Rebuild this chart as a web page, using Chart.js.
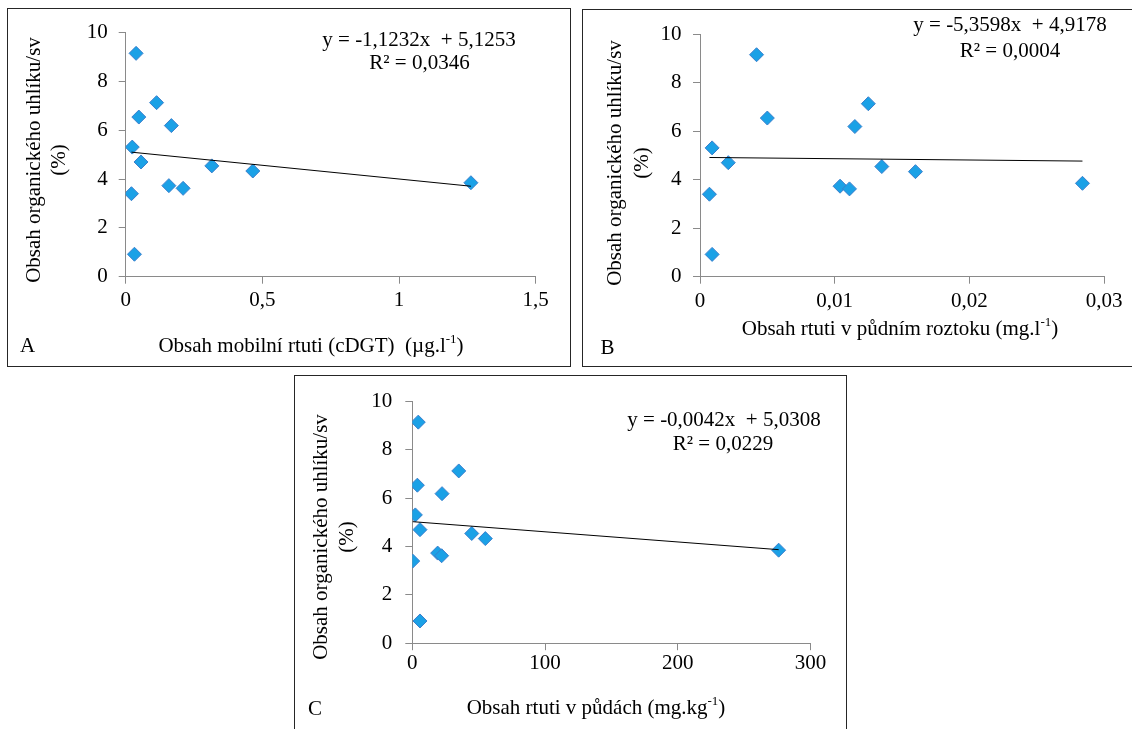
<!DOCTYPE html>
<html>
<head>
<meta charset="utf-8">
<script src="https://cdn.jsdelivr.net/npm/chart.js@4.4.1/dist/chart.umd.min.js"></script>
<style>
  body { margin: 0; background: #fff; width: 1132px; height: 729px; overflow: hidden; position: relative; }
  .panel { position: absolute; border: 1px solid #262626; background: #fff; }
  .panel canvas { position: absolute; left: 0; top: 0; }
</style>
</head>
<body>
<div class="panel" style="left:7px;top:8px;width:562px;height:357px"><canvas id="chartA" width="562" height="357"></canvas></div>
<div class="panel" style="left:582px;top:9px;width:560px;height:356px"><canvas id="chartB" width="560" height="356"></canvas></div>
<div class="panel" style="left:294px;top:375px;width:551px;height:360px"><canvas id="chartC" width="551" height="360"></canvas></div>
<script>
// organic carbon content (%) of the 13 soil samples
var carbon = [9.15, 6.54, 7.13, 6.19, 5.31, 4.70, 3.73, 3.62, 4.54, 4.33, 3.85, 3.40, 0.92];

// mercury: mobile (cDGT, ug/l), in soil solution (mg/l), total in soil (mg/kg)
var hgMobile = [0.038, 0.048, 0.113, 0.167, 0.024, 0.056, 0.158, 0.210, 0.315, 0.465, 1.263, 0.021, 0.032];
var hgSolution = [0.0042, 0.0050, 0.0125, 0.0115, 0.0009, 0.0021, 0.0104, 0.0111, 0.0135, 0.0160, 0.0284, 0.0007, 0.0009];
var hgSoil = [4.5, 3.8, 35.0, 22.4, 2.3, 5.8, 19.1, 22.1, 44.8, 55.0, 276, 0.3, 5.8];

// linear fits: [slope, intercept, R2]
var fitA = [-1.1232, 5.1253, 0.0346];
var fitB = [-5.3598, 4.9178, 0.0004];
var fitC = [-0.0042, 5.0308, 0.0229];

var ticksY = [0, 2, 4, 6, 8, 10];
var ticksA = [0, 0.5, 1, 1.5];
var ticksB = [0, 0.01, 0.02, 0.03];
var ticksC = [0, 100, 200, 300];

var yTitle = ['Obsah organického uhlíku/sv', '(%)'];

var serif = '"Liberation Serif", "Times New Roman", serif';
var fontSize = 21;

function comma(v, d) {
  return (d === undefined ? String(+v.toFixed(6)) : v.toFixed(d)).replace('.', ',');
}

// draws a line of text; parts beginning with '^' are superscripts
function drawParts(ctx, parts, cx, cy) {
  var small = Math.round(fontSize * 0.62);
  var widths = parts.map(function (p) {
    var sup = p.charAt(0) === '^';
    ctx.font = (sup ? small : fontSize) + 'px ' + serif;
    return ctx.measureText(sup ? p.slice(1) : p).width;
  });
  var x = cx - widths.reduce(function (a, b) { return a + b; }, 0) / 2;
  ctx.textAlign = 'left';
  ctx.textBaseline = 'middle';
  parts.forEach(function (p, i) {
    var sup = p.charAt(0) === '^';
    ctx.font = (sup ? small : fontSize) + 'px ' + serif;
    ctx.fillText(sup ? p.slice(1) : p, x, sup ? cy - fontSize * 0.3 : cy);
    x += widths[i];
  });
}

var panelText = {
  id: 'panelText',
  afterDraw: function (chart, args, o) {
    var ctx = chart.ctx;
    ctx.save();
    ctx.fillStyle = '#000';

    // rotated y title, one line after another
    ctx.save();
    ctx.translate(0, o.yTitle.cy);
    ctx.rotate(-Math.PI / 2);
    ctx.font = fontSize + 'px ' + serif;
    ctx.textAlign = 'center';
    ctx.textBaseline = 'middle';
    yTitle.forEach(function (t, i) { ctx.fillText(t, 0, o.yTitle.x[i]); });
    ctx.restore();

    drawParts(ctx, o.xTitle.parts, o.xTitle.at[0], o.xTitle.at[1]);

    var fit = o.fit;
    drawParts(ctx, ['y = ' + comma(fit[0], 4) + 'x  + ' + comma(fit[1], 4)], o.eq[0][0], o.eq[0][1]);
    drawParts(ctx, ['R\u00b2 = ' + comma(fit[2], 4)], o.eq[1][0], o.eq[1][1]);

    ctx.font = fontSize + 'px ' + serif;
    ctx.textAlign = 'left';
    ctx.textBaseline = 'middle';
    ctx.fillText(o.letter.text, o.letter.at[0], o.letter.at[1]);
    ctx.restore();
  }
};

var gridOpts = { drawOnChartArea: false, drawTicks: true, tickLength: 7, color: '#8a8a8a', lineWidth: 1 };
var borderOpts = { display: true, color: '#8a8a8a', width: 1 };

function makePanel(id, xs, fit, ticksX, p) {
  var canvas = document.getElementById(id);
  var pts = xs.map(function (v, i) { return { x: v, y: carbon[i] }; });
  var lo = Math.min.apply(null, xs), hi = Math.max.apply(null, xs);
  var trend = [lo, hi].map(function (v) { return { x: v, y: fit[0] * v + fit[1] }; });
  var a = p.area;

  return new Chart(canvas, {
    type: 'scatter',
    data: {
      datasets: [{
        data: trend,
        showLine: true,
        borderColor: '#000',
        borderWidth: 1,
        pointRadius: 0,
        order: 0
      }, {
        data: pts,
        pointStyle: 'rectRot',
        pointRadius: 7,
        backgroundColor: '#1ba1e6',
        borderColor: '#3a7fcc',
        borderWidth: 1,
        order: 1
      }]
    },
    options: {
      responsive: false,
      animation: false,
      devicePixelRatio: 1,
      layout: { padding: { top: a.top, right: canvas.width - a.right, left: 0, bottom: 0 } },
      plugins: {
        legend: { display: false },
        tooltip: { enabled: false },
        panelText: p.text
      },
      scales: {
        x: {
          type: 'linear',
          min: ticksX[0],
          max: ticksX[ticksX.length - 1],
          ticks: {
            stepSize: ticksX[1] - ticksX[0],
            maxRotation: 0,
            padding: p.xPad,
            color: '#000',
            font: { family: serif, size: fontSize },
            callback: function (v) { return comma(v); }
          },
          grid: gridOpts,
          border: borderOpts,
          afterFit: function (s) { s.height = canvas.height - a.bottom; }
        },
        y: {
          min: ticksY[0],
          max: ticksY[ticksY.length - 1],
          ticks: {
            stepSize: ticksY[1] - ticksY[0],
            padding: p.yPad,
            color: '#000',
            font: { family: serif, size: fontSize },
            callback: function (v) { return comma(v); }
          },
          grid: gridOpts,
          border: borderOpts,
          afterFit: function (s) { s.width = a.left; }
        }
      }
    },
    plugins: [panelText]
  });
}

makePanel('chartA', hgMobile, fitA, ticksA, {
  area: { left: 117.7, top: 21, right: 527.7, bottom: 267.7 },
  xPad: 4.5, yPad: 11,
  text: {
    fit: fitA,
    yTitle: { x: [26, 51], cy: 151 },
    xTitle: { parts: ['Obsah mobilní rtuti (cDGT)  (\u00b5g.l', '^-1', ')'], at: [303, 337] },
    eq: [[411, 31], [411.5, 54.3]],
    letter: { text: 'A', at: [12, 337] }
  }
});

makePanel('chartB', hgSolution, fitB, ticksB, {
  area: { left: 117, top: 20, right: 521, bottom: 266.7 },
  xPad: 5, yPad: 11.5,
  text: {
    fit: fitB,
    yTitle: { x: [32, 59.5], cy: 153 },
    xTitle: { parts: ['Obsah rtuti v půdním roztoku (mg.l', '^-1', ')'], at: [317, 319] },
    eq: [[427, 15], [427, 41.7]],
    letter: { text: 'B', at: [17.5, 338] }
  }
});

makePanel('chartC', hgSoil, fitC, ticksC, {
  area: { left: 117.3, top: 20, right: 515.5, bottom: 267.2 },
  xPad: 0.5, yPad: 13,
  text: {
    fit: fitC,
    yTitle: { x: [26.7, 52.7], cy: 161 },
    xTitle: { parts: ['Obsah rtuti v půdách (mg.kg', '^-1', ')'], at: [301, 332] },
    eq: [[429, 44], [428, 68]],
    letter: { text: 'C', at: [13, 333] }
  }
});
</script>
</body>
</html>
